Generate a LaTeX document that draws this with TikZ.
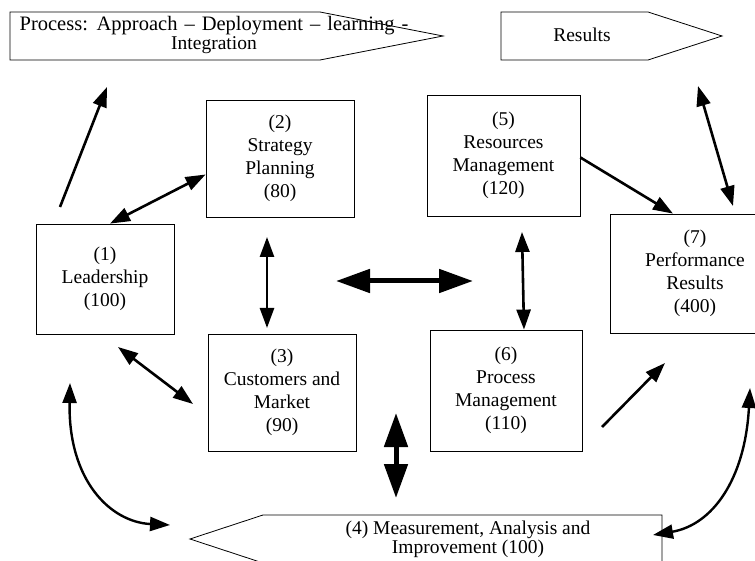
\documentclass[tikz,border=0pt]{standalone}
\usepackage{fontspec}
\setmainfont{Liberation Serif}
\usetikzlibrary{arrows.meta}
\begin{document}
\begin{tikzpicture}[x=1pt,y=-1pt,
  txt/.style={align=center, inner sep=0pt, font=\fontsize{19.5}{23}\selectfont},
  tight/.style={align=center, inner sep=0pt, font=\fontsize{19.5}{16.5}\selectfont},
  box/.style={txt, draw, line width=0.8pt, rectangle},
  outline/.style={draw, line width=0.8pt, line join=miter},
  tipS/.tip={Triangle[length=20pt,width=14pt]},
  tipL/.tip={Triangle[length=34pt,width=23pt]},
  twoway/.style={line width=2.6pt, tipS-tipS},
  oneway/.style={line width=2.6pt, -tipS},
  bigtwoway/.style={line width=5pt, tipL-tipL}]

\fill[white] (0,0) rectangle (755,561);
\useasboundingbox (0,0) rectangle (755,561);

% criteria boxes
\node[box, minimum width=138pt, minimum height=110pt] (lead) at (105,279) {(1)\\Leadership\\(100)};
\node[box, minimum width=148pt, minimum height=117pt] (strat) at (280,158.5) {(2)\\Strategy\\Planning\\(80)};
\node[box, minimum width=148pt, minimum height=117pt] (cust) at (282,392.5) {(3)\\Customers and\\Market\\(90)};
\node[box, minimum width=153pt, minimum height=121pt] (res) at (503.5,155.5) {(5)\\Resources\\Management\\(120)};
\node[box, minimum width=152pt, minimum height=121pt] (pm) at (506,390.5) {(6)\\Process\\Management\\(110)};
\node[box, minimum width=170pt, minimum height=119pt] (perf) at (695,273.5) {(7)\\Performance\\Results\\(400)};

% banner arrows
\draw[outline] (10,12) -- (320,12) -- (443,36) -- (320,60) -- (10,60) -- cycle;
\node[tight] (proc) at (214,35) {{\fontsize{20.5}{16.5}\selectfont\spaceskip=7pt plus 2pt Process: Approach -- Deployment -- learning -}\\Integration};
\draw[outline] (501,12) -- (648,12) -- (722,36) -- (648,60) -- (501,60) -- cycle;
\node[txt] (resl) at (582,35) {Results};
\draw[outline] (662,515) -- (263,515) -- (190,539) -- (263,563) -- (662,563) -- cycle;
\node[tight] (meas) at (468,539) {(4) Measurement, Analysis and\\Improvement (100)};

% free ends of connectors
\coordinate (a0) at (60,207);
\coordinate (a1) at (107,87);
\coordinate (c0) at (267,237);
\coordinate (c1) at (267,328);
\coordinate (d0) at (336,281);
\coordinate (d1) at (473,281);
\coordinate (e0) at (522,232);
\coordinate (g0) at (698,86);
\coordinate (g1) at (733,206);
\coordinate (h0) at (602,427);
\coordinate (h1) at (665,363);
\coordinate (i0) at (750,388);
\coordinate (i1) at (653,535);
\coordinate (j0) at (70,383);
\coordinate (j1) at (170,525);
\coordinate (k0) at (118,347);
\coordinate (k1) at (193,404);
\coordinate (l0) at (396,413);
\coordinate (l1) at (396,498);

% connectors
\draw[oneway] (a0) -- (a1);
\draw[twoway] ([xshift=5pt]lead.north) -- ([yshift=-16pt]strat.west);
\draw[twoway] (c0) -- (c1);
\draw[bigtwoway] (d0) -- (d1);
\draw[twoway] (e0) -- ([xshift=18pt]pm.north);
\draw[oneway] ([yshift=-2pt]res.east) -- ([xshift=-22pt]perf.north);
\draw[twoway] (g0) -- (g1);
\draw[oneway] (h0) -- (h1);
\draw[twoway] (k0) -- (k1);
\draw[bigtwoway] (l0) -- (l1);
\draw[twoway, line width=2.4pt] (i0) .. controls (745,480) and (712,525) .. (i1);
\draw[twoway, line width=2.4pt] (j0) .. controls (68,480) and (110,522) .. (j1);
\end{tikzpicture}
\end{document}
